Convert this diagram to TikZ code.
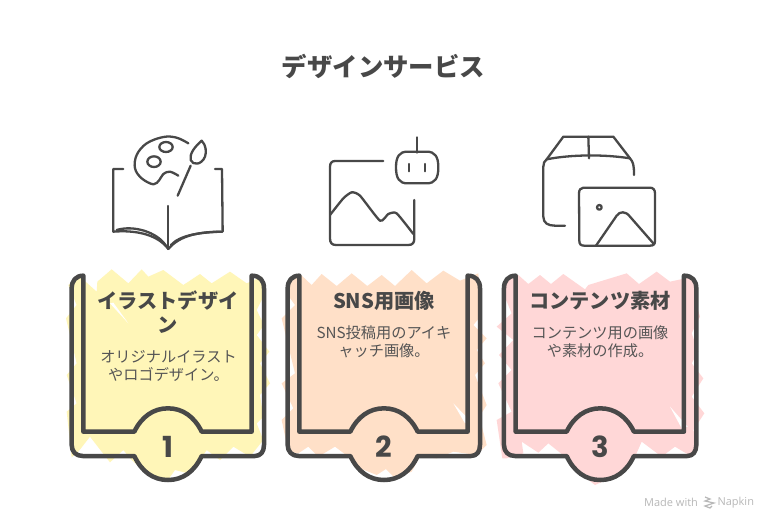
\documentclass[tikz,border=0pt]{standalone}
\usepackage{fontspec}
\setmainfont{Noto Sans CJK JP}
\newfontfamily\numfont{Poppins}
\newfontfamily\wmfont{Open Sans}
\definecolor{ink}{HTML}{484848}
\definecolor{bodyink}{HTML}{555555}
\definecolor{cardA}{HTML}{FFF6B8}
\definecolor{cardB}{HTML}{FFE0C8}
\definecolor{cardC}{HTML}{FFD7D7}
\definecolor{wm}{HTML}{B8B8B8}
\tikzset{
  titletext/.style={font=\fontsize{25.4}{30}\selectfont\bfseries,text=ink},
  headtext/.style={font=\fontsize{20.2}{24}\selectfont\bfseries,text=ink,align=center},
  bodytext/.style={font=\fontsize{15.2}{18.5}\selectfont,text=bodyink,align=center},
  numtext/.style={font=\fontsize{29}{34}\selectfont\numfont\bfseries,text=ink},
  outline/.style={draw=ink,line width=4.5pt,line join=round,line cap=round},
  sketch/.style={draw=ink,line width=2.3pt,line cap=round,line join=round},
  zoomed/.style={scale=1/3},
}
\newcommand{\cardoutline}{%
  \draw[outline] (70,47) .. controls (48,47) and (35,62) .. (35,85) -- (35,555)
    .. controls (35,575) and (48,588) .. (68,588) -- (223,588)
    .. controls (245,635) and (280,660) .. (324,660) .. controls (368,660) and (403,635) .. (425,588)
    -- (585,588) .. controls (602,588) and (612,575) .. (612,555) -- (612,85)
    .. controls (612,62) and (600,47) .. (575,47) -- (575,515) -- (425,515)
    .. controls (403,470) and (368,445) .. (324,445) .. controls (280,445) and (245,470) .. (223,515)
    -- (70,515) -- cycle;
}
\begin{document}
\begin{tikzpicture}[x=1pt,y=-1pt]
\useasboundingbox (0,0) rectangle (768,520);
\fill[white] (0,0) rectangle (768,520);
\node[titletext] (title) at (383.5,66.5) {デザインサービス};

% card fills
\begin{scope}[shift={(60,260)},zoomed]
\fill[cardA] (25,75) -- (60,50) -- (110,95) -- (112,65) -- (155,28) -- (205,70) -- (245,28) -- (265,50) -- (310,30) -- (370,75) -- (420,42) -- (455,70) -- (510,35) -- (560,70) -- (605,50)
 -- (610,110) -- (590,150) -- (612,195) -- (590,225) -- (628,275) -- (600,310) -- (630,370) -- (600,405) -- (610,470) -- (590,490) -- (610,540) -- (570,590)
 -- (520,560) -- (480,600) -- (440,570) -- (420,600) -- (385,640) -- (345,630) -- (320,665) -- (270,650) -- (215,600) -- (190,570) -- (150,607) -- (90,530) -- (55,575) -- (35,592)
 -- (20,455) -- (50,430) -- (20,345) -- (50,310) -- (18,175) -- (50,135) -- cycle;
\fill[white] (150,130) -- (205,190) -- (160,128) -- cycle;
\end{scope}
\begin{scope}[shift={(280,260)},zoomed]
\fill[cardB] (25,60) -- (60,42) -- (95,75) -- (125,42) -- (170,78) -- (215,40) -- (262,78) -- (305,45) -- (345,78) -- (395,30) -- (440,70) -- (490,32) -- (540,62) -- (595,40)
 -- (605,165) -- (580,195) -- (620,235) -- (590,270) -- (615,310) -- (585,345) -- (620,435) -- (598,470) -- (620,555) -- (590,585)
 -- (520,575) -- (470,595) -- (420,590) -- (395,635) -- (345,655) -- (318,627) -- (290,645) -- (240,625) -- (205,590) -- (165,560) -- (115,590) -- (85,560) -- (55,580) -- (25,575)
 -- (5,480) -- (40,445) -- (5,370) -- (45,340) -- (5,175) -- (45,135) -- (20,100) -- cycle;
\fill[white] (520,430) -- (568,480) -- (555,490) -- cycle;
\end{scope}
\begin{scope}[shift={(495,260)},zoomed]
\fill[cardC] (30,60) -- (70,45) -- (100,72) -- (135,45) -- (168,72) -- (205,42) -- (270,88) -- (280,75) -- (395,40) -- (432,72) -- (485,35) -- (525,65) -- (595,50)
 -- (600,120) -- (615,170) -- (590,220) -- (610,275) -- (590,310) -- (625,355) -- (590,410) -- (628,460) -- (595,510) -- (610,560) -- (590,590)
 -- (540,560) -- (500,590) -- (440,545) -- (420,590) -- (380,640) -- (300,675) -- (255,640) -- (210,590) -- (160,550) -- (130,578) -- (80,545) -- (85,580) -- (35,595) -- (22,595)
 -- (5,480) -- (50,455) -- (10,370) -- (50,330) -- (12,285) -- (55,240) -- (5,200) -- (50,160) -- (25,100) -- cycle;
\fill[white] (525,440) -- (578,500) -- (560,505) -- cycle;
\end{scope}

% card outlines
\begin{scope}[shift={(60,260)},zoomed]\cardoutline\end{scope}
\begin{scope}[shift={(276,260)},zoomed]\cardoutline\end{scope}
\begin{scope}[shift={(492.3,260)},zoomed]\cardoutline\end{scope}

% texts
\node[headtext] (h1) at (168,312) {イラストデザイ\\ン};
\node[bodytext] (b1) at (168.5,366) {オリジナルイラスト\\やロゴデザイン。};
\node[numtext] (n1) at (168,447) {1};
\node[headtext] (h2) at (384,301) {SNS用画像};
\node[bodytext] (b2) at (384,342) {SNS投稿用のアイキ\\ャッチ画像。};
\node[numtext] (n2) at (384,447) {2};
\node[headtext] (h3) at (600,301) {コンテンツ素材};
\node[bodytext] (b3) at (600,342) {コンテンツ用の画像\\や素材の作成。};
\node[numtext] (n3) at (600,447) {3};

% icon 1: book and palette
\begin{scope}[shift={(100,125)},zoomed]
\draw[sketch] plot[smooth,tension=0.6] coordinates {(265,55) (230,38) (190,36) (140,55) (110,90) (105,130) (125,160) (160,178) (178,165) (190,147) (210,140) (235,152)};
\draw[sketch] (198,66) ellipse [x radius=20,y radius=15];
\draw[sketch] (162,110) ellipse [x radius=20,y radius=16];
\draw[sketch] (305,47) .. controls (285,65) and (268,85) .. (272,105) .. controls (278,122) and (305,120) .. (315,95) .. controls (320,80) and (318,60) .. (305,47) -- cycle;
\draw[sketch] (272,122) -- (233,212);
\draw[sketch] (70,132) -- (40,132) -- (40,320) .. controls (100,315) and (170,325) .. (205,372);
\draw[sketch] (50,315) .. controls (100,300) and (170,320) .. (198,362);
\draw[sketch] (345,132) -- (366,132) -- (368,320) .. controls (300,320) and (240,330) .. (205,372);
\draw[sketch] (213,360) .. controls (240,330) and (300,322) .. (365,320);
\draw[sketch] (205,243) -- (205,372);
\end{scope}

% icon 2: image and robot
\begin{scope}[shift={(320,130)},zoomed]
\draw[sketch] (190,93) -- (45,93) .. controls (35,93) and (30,100) .. (30,110) -- (30,325) .. controls (30,338) and (35,345) .. (48,345) -- (265,345) .. controls (278,345) and (283,338) .. (283,325) -- (283,210);
\draw[sketch] plot[smooth,tension=0.35] coordinates {(30,255) (70,205) (95,187) (120,197) (180,272) (205,252) (230,250) (280,312)};
\draw[sketch] (262,65) -- (320,65) .. controls (345,65) and (355,80) .. (355,112) .. controls (355,145) and (345,160) .. (320,160) -- (262,160) .. controls (238,160) and (228,145) .. (228,112) .. controls (228,80) and (238,65) .. (262,65) -- cycle;
\draw[sketch] (291,22) -- (291,68);
\draw[sketch] (268,102) -- (268,124);
\draw[sketch] (314,102) -- (314,124);
\end{scope}

% icon 3: box and image
\begin{scope}[shift={(535,125)},zoomed]
\draw[sketch] (35,103) -- (85,35) -- (235,35) -- (285,100);
\draw[sketch] (35,103) .. controls (110,88) and (210,88) .. (285,100);
\draw[sketch] (160,35) -- (162,100);
\draw[sketch] (35,103) .. controls (28,108) and (25,115) .. (25,125) -- (25,275) .. controls (25,295) and (40,302) .. (60,302) -- (90,302);
\draw[sketch] (285,100) .. controls (295,112) and (297,120) .. (297,150);
\draw[sketch] (145,188) -- (345,188) .. controls (355,188) and (360,195) .. (360,205) -- (360,348) .. controls (360,358) and (355,362) .. (345,362) -- (148,362) .. controls (138,362) and (133,358) .. (133,348) -- (132,205) .. controls (132,195) and (137,188) .. (145,188) -- cycle;
\draw[sketch] (193,247) circle [radius=7];
\draw[sketch] (183,362) -- (245,272) .. controls (255,258) and (272,258) .. (285,275) -- (355,355);
\end{scope}

% watermark
\node[font=\fontsize{11}{13}\selectfont\wmfont,text=wm,anchor=east] (mw) at (701.5,502.5) {Made with};
\node[font=\fontsize{11}{13}\selectfont\wmfont,text=wm,anchor=west] (np) at (714,502.5) {Napkin};
\draw[wm,line width=1.2pt] (705,497) -- (710,499) -- (705,501) -- (714,503) -- (705,506) -- (710,508) -- (712,506);
\end{tikzpicture}
\end{document}
